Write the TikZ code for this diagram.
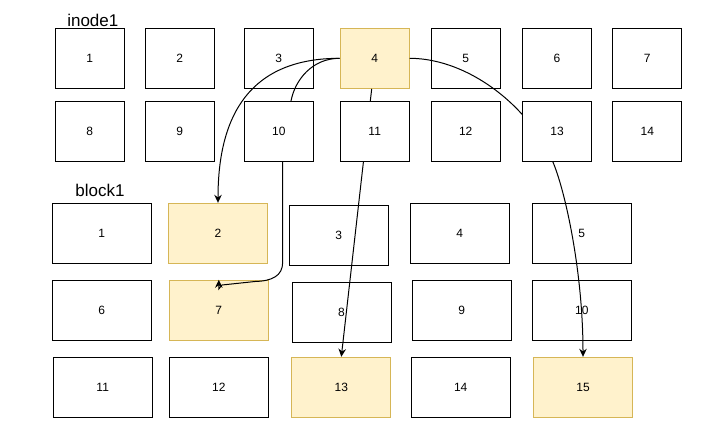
\documentclass[tikz,border=0pt]{standalone}
\usepackage{fontspec}
\setmainfont{Liberation Sans}
\usetikzlibrary{arrows.meta,calc}
\definecolor{hl}{HTML}{FFF2CC}
\definecolor{hlborder}{HTML}{D6B656}
\tikzset{
 ibox/.style={draw=black, fill=white, line width=1pt, minimum width=69pt, minimum height=60pt, inner sep=0pt, font=\fontsize{12}{14}\selectfont},
 bbox/.style={ibox, minimum width=99pt},
 hlbox/.style={fill=hl, draw=hlborder},
 lbl/.style={font=\fontsize{17}{20}\selectfont, anchor=base, inner sep=0pt},
 conn/.style={draw=black, line width=1pt, -{Stealth[length=8pt,width=7.5pt]}}
}
\begin{document}
\begin{tikzpicture}[x=1pt,y=-1pt]
\fill[white] (0,0) rectangle (712,426);
\useasboundingbox (0,0) rectangle (712,426);
% labels
\node[lbl] (lin) at (92.8,26) {inode1};
\node[lbl] (lbl1) at (100,196) {block1};
% inode row 1
\node[ibox] (i1) at (89.8,58.3) {1};
\node[ibox] (i2) at (179.8,58.3) {2};
\node[ibox] (i3) at (278.8,58.3) {3};
\node[ibox,hlbox] (i4) at (374.7,58.3) {4};
\node[ibox] (i5) at (465.7,58.3) {5};
\node[ibox] (i6) at (557,58.3) {6};
\node[ibox] (i7) at (647.3,58.3) {7};
% inode row 2 (part)
\node[ibox] (i8) at (89.8,131.2) {8};
\node[ibox] (i9) at (179.8,131.2) {9};
\node[ibox] (i12) at (465.7,131.2) {12};
\node[ibox] (i14) at (647.3,131.2) {14};
% blocks
\node[bbox] (b1) at (101.8,233.3) {1};
\node[bbox,hlbox] (b2) at (218,233.3) {2};
\node[bbox] (b3) at (338.8,235.3) {3};
\node[bbox] (b4) at (459.8,233.3) {4};
\node[bbox] (b5) at (581.8,233.3) {5};
\node[bbox] (b6) at (101.8,310.3) {6};
\node[bbox,hlbox] (b7) at (218.8,310.3) {7};
\node[bbox] (b8) at (341.5,312.3) {8};
\node[bbox] (b9) at (461.7,310.3) {9};
\node[bbox] (b10) at (581.8,310.3) {10};
\node[bbox] (b11) at (102.7,387.3) {11};
\node[bbox] (b12) at (218.8,387.3) {12};
\node[bbox,hlbox] (b13) at (341.3,387.3) {13};
\node[bbox] (b14) at (460.7,387.3) {14};
\node[bbox,hlbox] (b15) at (583,387.3) {15};
% connectors
\draw[conn] (i4.west) .. controls (250,58.3) and (218,115) .. (b2.north);
\draw[conn] (i4.west) .. controls (312,58.3) and (295,80) .. (291,101) -- (282.7,161) -- (282.7,262)
  .. controls (282.7,276) and (272,281) .. (255,281.5) -- (222,285) -- (218.8,289) -- (b7.north);
\draw[conn] ($(i4.south)+(-3,0)$) -- (b13.north);
\draw[conn] (i4.east) .. controls (470,58.3) and (535,110) .. (556,170)
  .. controls (568.6,206) and (583,280) .. (b15.north);
% inode boxes lying over the connectors
\node[ibox] (i10) at (278.8,131.2) {10};
\node[ibox] (i11) at (374.7,131.2) {11};
\node[ibox] (i13) at (557,131.2) {13};
\end{tikzpicture}
\end{document}
